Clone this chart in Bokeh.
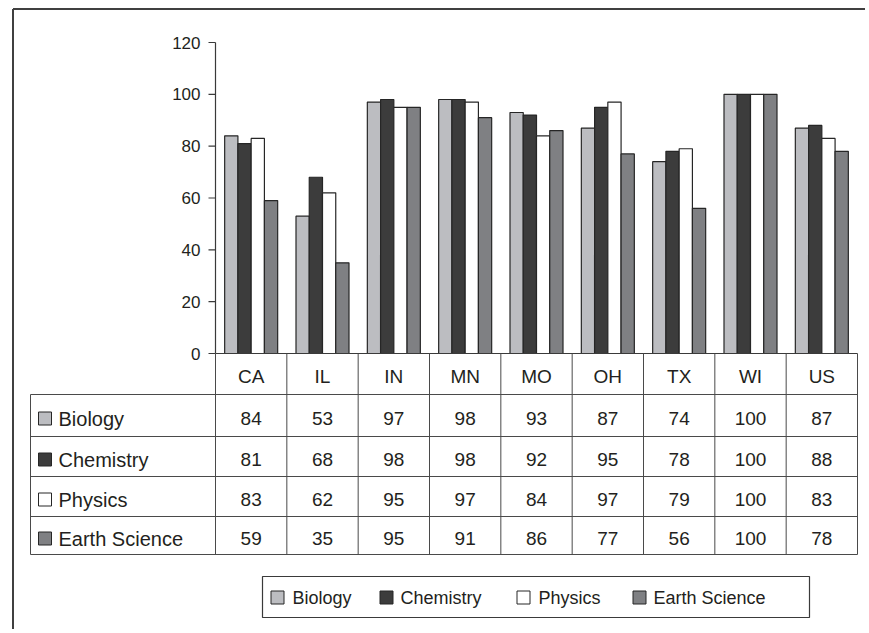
from bokeh.plotting import figure
from bokeh.models import Range1d
from bokeh.core.properties import value
from bokeh.embed import file_html
from bokeh.resources import INLINE

# ---------------- data ----------------
states = ["CA", "IL", "IN", "MN", "MO", "OH", "TX", "WI", "US"]
biology = [84, 53, 97, 98, 93, 87, 74, 100, 87]
chemistry = [81, 68, 98, 98, 92, 95, 78, 100, 88]
physics = [83, 62, 95, 97, 84, 97, 79, 100, 83]
earth_science = [59, 35, 95, 91, 86, 77, 56, 100, 78]
series_names = ["Biology", "Chemistry", "Physics", "Earth Science"]
y_ticks = [0, 20, 40, 60, 80, 100, 120]

series = [biology, chemistry, physics, earth_science]
colors = ["#bcbdc1", "#3c3c3c", "#ffffff", "#7f8083"]

# ---------------- layout (picture pixels) ----------------
W, H = 865, 629
AX_X = 215.0
COL_W = 642.0 / 9
ZERO_Y = 353.0
PX_PER_UNIT = 311.0 / 120


def dx(px):
    return (px - AX_X) / COL_W


def dy(py):
    return (ZERO_Y - py) / PX_PER_UNIT


FONT = value("Liberation Sans")
TXT = "#231f20"
LINE = "#3a3a3a"

p = figure(width=W, height=H, output_backend="svg", toolbar_location=None,
           x_range=Range1d(dx(0), dx(W)), y_range=Range1d(dy(H), dy(0)),
           x_axis_type=None, y_axis_type=None, min_border=0,
           min_border_left=0, min_border_right=0, min_border_top=0, min_border_bottom=0)
p.grid.visible = False
p.outline_line_color = None
p.background_fill_color = "white"
p.border_fill_color = "white"

# outer border (left and top)
p.segment(x0=[dx(12.5), dx(12.5)], y0=[dy(H), dy(8.5)],
          x1=[dx(12.5), dx(W)], y1=[dy(8.5), dy(8.5)],
          line_color="#404040", line_width=2)

# bars
BW = 13.25 / COL_W
n = len(states)
for k, vals in enumerate(series):
    xs = [i + 0.5 + (k - 1.5) * BW for i in range(n)]
    p.vbar(x=xs, top=vals, bottom=0, width=BW, fill_color=colors[k],
           line_color="#262626", line_width=1.2)

# y axis
p.segment(x0=[0], y0=[0], x1=[0], y1=[y_ticks[-1]], line_color=LINE, line_width=1.2)
p.segment(x0=[dx(208)] * len(y_ticks), y0=y_ticks, x1=[0] * len(y_ticks), y1=y_ticks,
          line_color=LINE, line_width=1.2)
p.text(x=[dx(200)] * len(y_ticks), y=y_ticks, text=[str(t) for t in y_ticks],
       text_align="right", text_baseline="middle", text_font=FONT,
       text_font_size="17px", text_color=TXT)

# data table grid
row_edges = [394, 436, 476, 516, 554]
LEFT_X = 30.0
nrows = len(series)
TEXT_DROP = 3.0
# x axis / top of header
p.segment(x0=[0], y0=[0], x1=[n], y1=[0], line_color=LINE, line_width=1.2)
# horizontal lines
hy = [dy(v) for v in row_edges]
p.segment(x0=[dx(LEFT_X)] * len(hy), y0=hy, x1=[n] * len(hy), y1=hy,
          line_color="#4a4a4a", line_width=1)
# vertical lines for value columns
p.segment(x0=list(range(n + 1)), y0=[0] * (n + 1), x1=list(range(n + 1)),
          y1=[dy(row_edges[-1])] * (n + 1), line_color="#4a4a4a", line_width=1)
# left edge of label column
p.segment(x0=[dx(LEFT_X)], y0=[dy(row_edges[0])], x1=[dx(LEFT_X)],
          y1=[dy(row_edges[-1])], line_color="#4a4a4a", line_width=1)

# header labels
p.text(x=[i + 0.5 for i in range(n)], y=[dy((ZERO_Y + row_edges[0]) / 2 + 2.5)] * n,
       text=states, text_align="center", text_baseline="middle", text_font=FONT,
       text_font_size="19px", text_color=TXT)

row_cy = [dy((row_edges[r] + row_edges[r + 1]) / 2 + TEXT_DROP) for r in range(nrows)]

# values
for r, vals in enumerate(series):
    p.text(x=[i + 0.5 for i in range(n)], y=[row_cy[r]] * n, text=[str(v) for v in vals],
           text_align="center", text_baseline="middle", text_font=FONT,
           text_font_size="19px", text_color=TXT)

# row labels with swatches
p.rect(x=[dx(44.5)] * nrows, y=row_cy, width=13, height=13,
       width_units="screen", height_units="screen",
       fill_color=colors, line_color="#262626", line_width=1)
p.text(x=[dx(58)] * nrows, y=row_cy, text=series_names, text_align="left",
       text_baseline="middle", text_font=FONT, text_font_size="20px", text_color=TXT)

# legend box
p.quad(left=[dx(262)], right=[dx(809)], top=[dy(576)], bottom=[dy(617)],
       fill_color=None, line_color=LINE, line_width=1.2)
leg_sw_x = [277, 386, 523, 639]
leg_tx_x = [292, 400, 538, 653]
leg_cy = dy(597)
p.rect(x=[dx(v) for v in leg_sw_x], y=[leg_cy] * 4, width=13, height=13,
       width_units="screen", height_units="screen",
       fill_color=colors, line_color="#262626", line_width=1)
p.text(x=[dx(v) for v in leg_tx_x], y=[leg_cy] * 4, text=series_names,
       text_align="left", text_baseline="middle", text_font=FONT,
       text_font_size="18px", text_color=TXT)

open("out.html", "w").write(file_html(p, INLINE))
